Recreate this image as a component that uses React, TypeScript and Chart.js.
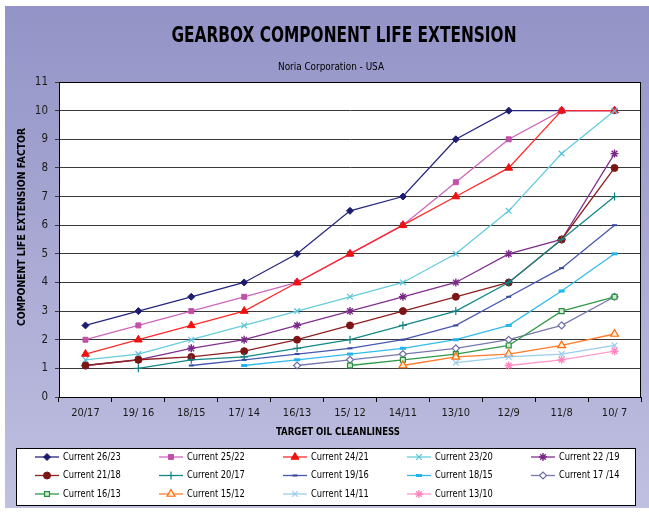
import React, { useEffect, useRef } from "react";
import { Chart, registerables } from "chart.js";
import { drawPoint } from "chart.js/helpers";

Chart.register(...registerables);

const categories = ["20/17", "19/ 16", "18/15", "17/ 14", "16/13", "15/ 12", "14/11", "13/10", "12/9", "11/8", "10/ 7"];

const names = [
  "Current 26/23", "Current 25/22", "Current 24/21", "Current 23/20", "Current 22 /19",
  "Current 21/18", "Current 20/17", "Current 19/16", "Current 18/15", "Current 17 /14",
  "Current 16/13", "Current 15/12", "Current 14/11", "Current 13/10",
];

const s2623 = [2.5, 3, 3.5, 4, 5, 6.5, 7, 9, 10, 10, 10];
const s2522 = [2, 2.5, 3, 3.5, 4, 5, 6, 7.5, 9, 10, 10];
const s2421 = [1.5, 2, 2.5, 3, 4, 5, 6, 7, 8, 10, 10];
const s2320 = [1.3, 1.5, 2, 2.5, 3, 3.5, 4, 5, 6.5, 8.5, 10];
const s2219 = [1.1, 1.3, 1.7, 2, 2.5, 3, 3.5, 4, 5, 5.5, 8.5];
const s2118 = [1.1, 1.3, 1.4, 1.6, 2, 2.5, 3, 3.5, 4, 5.5, 8];
const s2017 = [null, 1, 1.3, 1.4, 1.7, 2, 2.5, 3, 4, 5.5, 7];
const s1916 = [null, null, 1.1, 1.3, 1.5, 1.7, 2, 2.5, 3.5, 4.5, 6];
const s1815 = [null, null, null, 1.1, 1.3, 1.5, 1.7, 2, 2.5, 3.7, 5];
const s1714 = [null, null, null, null, 1.1, 1.3, 1.5, 1.7, 2, 2.5, 3.5];
const s1613 = [null, null, null, null, null, 1.1, 1.3, 1.5, 1.8, 3, 3.5];
const s1512 = [null, null, null, null, null, null, 1.1, 1.4, 1.5, 1.8, 2.2];
const s1411 = [null, null, null, null, null, null, null, 1.2, 1.4, 1.5, 1.8];
const s1310 = [null, null, null, null, null, null, null, null, 1.1, 1.3, 1.6];

const seriesValues = [s2623, s2522, s2421, s2320, s2219, s2118, s2017, s1916, s1815, s1714, s1613, s1512, s1411, s1310];

const yTicks = [0, 1, 2, 3, 4, 5, 6, 7, 8, 9, 10, 11];

const TITLE = "GEARBOX COMPONENT LIFE EXTENSION";
const SUBTITLE = "Noria Corporation - USA";
const Y_TITLE = "COMPONENT LIFE EXTENSION FACTOR";
const X_TITLE = "TARGET OIL CLEANLINESS";

const FONT = '"Liberation Sans Narrow", "DejaVu Sans Condensed", "Liberation Sans", sans-serif';

type Style = { line: string; point: string; fill: string; pointStyle: any; radius: number; bw: number };
const styles: Style[] = [
  { line: "#262680", point: "#1C1C70", fill: "#1C1C70", pointStyle: "rectRot", radius: 3.5, bw: 1 },
  { line: "#CC66BB", point: "#C050A8", fill: "#C050A8", pointStyle: "rect", radius: 3.5, bw: 1 },
  { line: "#FF2A2A", point: "#F01010", fill: "#F01010", pointStyle: "triangle", radius: 4.5, bw: 1 },
  { line: "#66CCDD", point: "#55C4D8", fill: "#55C4D8", pointStyle: "crossRot", radius: 4, bw: 1.2 },
  { line: "#82308F", point: "#7A2888", fill: "#7A2888", pointStyle: "star", radius: 4, bw: 1.4 },
  { line: "#8E2020", point: "#7E1515", fill: "#7E1515", pointStyle: "circle", radius: 3.5, bw: 1 },
  { line: "#168888", point: "#0E7E7E", fill: "#0E7E7E", pointStyle: "cross", radius: 4, bw: 1.2 },
  { line: "#4858B0", point: "#3848A0", fill: "#3848A0", pointStyle: "line", radius: 2.5, bw: 2 },
  { line: "#33BBEE", point: "#22B4EE", fill: "#22B4EE", pointStyle: "line", radius: 3, bw: 3 },
  { line: "#7878AE", point: "#6C6CA8", fill: "#FFFFFF", pointStyle: "rectRot", radius: 3.5, bw: 1.2 },
  { line: "#2E9A4A", point: "#2A8E44", fill: "#CCEECC", pointStyle: "rect", radius: 3.5, bw: 1.2 },
  { line: "#FF7A2A", point: "#FF6A10", fill: "#FFEECC", pointStyle: "triangle", radius: 4.5, bw: 1.2 },
  { line: "#99CCEE", point: "#99CCEE", fill: "#99CCEE", pointStyle: "crossRot", radius: 4, bw: 1.2 },
  { line: "#FF99CC", point: "#FF88C0", fill: "#FF88C0", pointStyle: "star", radius: 4, bw: 1.4 },
];

function drawFit(ctx: CanvasRenderingContext2D, text: string, cx: number, cy: number, width: number) {
  const w = ctx.measureText(text).width;
  ctx.save();
  ctx.translate(cx, cy);
  ctx.scale(width / w, 1);
  ctx.textAlign = "center";
  ctx.fillText(text, 0, 0);
  ctx.restore();
}

function drawNarrow(ctx: CanvasRenderingContext2D, text: string, x: number, y: number, sx: number) {
  ctx.save();
  ctx.translate(x, y);
  ctx.scale(sx, 1);
  ctx.textAlign = "left";
  ctx.fillText(text, 0, 0);
  ctx.restore();
}

const decorPlugin = {
  id: "decor",
  beforeDraw(chart: any) {
    const { ctx, chartArea } = chart;
    ctx.save();
    ctx.fillStyle = "#FFFFFF";
    ctx.fillRect(0, 0, chart.width, chart.height);
    const g = ctx.createLinearGradient(0, 6, 0, 508);
    g.addColorStop(0, "#9393C7");
    g.addColorStop(1, "#C0C0E1");
    ctx.fillStyle = g;
    ctx.fillRect(5, 6, chart.width - 5, 502);
    ctx.fillStyle = "#FFFFFF";
    ctx.fillRect(chartArea.left, chartArea.top, chartArea.right - chartArea.left, chartArea.bottom - chartArea.top);
    ctx.restore();
  },
  afterDraw(chart: any) {
    const { ctx, chartArea } = chart;
    ctx.save();
    ctx.strokeStyle = "#000000";
    ctx.lineWidth = 1;
    ctx.strokeRect(Math.round(chartArea.left) + 0.5, Math.round(chartArea.top) + 0.5,
      Math.round(chartArea.right - chartArea.left) - 1, Math.round(chartArea.bottom - chartArea.top));

    ctx.fillStyle = "#000000";
    ctx.textBaseline = "middle";
    ctx.font = `bold 21px ${FONT}`;
    drawFit(ctx, TITLE, 344, 37, 345);
    ctx.font = `11px ${FONT}`;
    drawFit(ctx, SUBTITLE, 331, 67, 106);
    ctx.font = `bold 11px ${FONT}`;
    drawFit(ctx, X_TITLE, 338, 432, 124);
    ctx.save();
    ctx.translate(22, 227);
    ctx.rotate(-Math.PI / 2);
    drawFit(ctx, Y_TITLE, 0, 0, 198);
    ctx.restore();

    ctx.fillStyle = "#FFFFFF";
    ctx.fillRect(16, 448, 619, 57);
    ctx.strokeStyle = "#000000";
    ctx.strokeRect(16.5, 448.5, 619, 57);

    const datasets = chart.data.datasets;
    ctx.textBaseline = "middle";
    ctx.font = `11px ${FONT}`;
    datasets.forEach((ds: any, i: number) => {
      const col = i % 5;
      const row = Math.floor(i / 5);
      const x0 = 35 + col * 124;
      const y = [457, 475.5, 494][row];
      ctx.strokeStyle = ds.borderColor;
      ctx.lineWidth = 1.3;
      ctx.beginPath();
      ctx.moveTo(x0, y);
      ctx.lineTo(x0 + 24, y);
      ctx.stroke();
      ctx.fillStyle = ds.pointBackgroundColor;
      ctx.strokeStyle = ds.pointBorderColor;
      ctx.lineWidth = ds.pointBorderWidth;
      drawPoint(ctx, { pointStyle: ds.pointStyle, rotation: 0, radius: ds.pointRadius, borderWidth: ds.pointBorderWidth }, x0 + 12, y);
      ctx.fillStyle = "#000000";
      drawNarrow(ctx, ds.label, x0 + 28, y, 0.84);
    });
    ctx.restore();
  },
};

export default function App() {
  const canvasRef = useRef<HTMLCanvasElement | null>(null);

  useEffect(() => {
    const canvas = canvasRef.current;
    if (!canvas) return;
    const n = seriesValues.length;
    const datasets = seriesValues.map((vals, i) => ({
      label: names[i],
      data: vals,
      order: n - 1 - i,
      borderColor: styles[i].line,
      backgroundColor: styles[i].line,
      borderWidth: 1.3,
      pointStyle: styles[i].pointStyle,
      pointRadius: styles[i].radius,
      pointBorderColor: styles[i].point,
      pointBackgroundColor: styles[i].fill,
      pointBorderWidth: styles[i].bw,
      tension: 0,
      spanGaps: false,
    }));
    const chart = new Chart(canvas, {
      type: "line",
      data: { labels: categories, datasets },
      options: {
        responsive: false,
        animation: false,
        events: [],
        layout: { padding: { left: 0, top: 82, right: 8, bottom: 0 } },
        plugins: {
          legend: { display: false },
          title: { display: false },
          tooltip: { enabled: false },
        },
        scales: {
          x: {
            type: "category",
            offset: true,
            grid: { display: true, drawOnChartArea: false, drawTicks: true, tickLength: 5, color: "#000000", offset: true },
            border: { display: true, color: "#000000", width: 1 },
            ticks: { font: { family: FONT, size: 11 }, color: "#1A1A1A", padding: 5, maxRotation: 0, autoSkip: false },
            afterFit: (scale: any) => { scale.height = 115; },
          },
          y: {
            min: 0,
            max: 11,
            afterBuildTicks: (scale: any) => { scale.ticks = yTicks.map((v) => ({ value: v })); },
            grid: { color: "#3A3A3A", lineWidth: 1, drawTicks: true, tickLength: 4 },
            border: { display: true, color: "#000000", width: 1 },
            ticks: { font: { family: FONT, size: 11.5 }, color: "#1A1A1A", padding: 7 },
            afterFit: (scale: any) => { scale.width = 59; },
          },
        },
      },
      plugins: [decorPlugin],
    });
    return () => chart.destroy();
  }, []);

  return (
    <div style={{ position: "absolute", left: 0, top: 0, width: 649, height: 512 }}>
      <canvas ref={canvasRef} width={649} height={512} style={{ display: "block" }} />
    </div>
  );
}
